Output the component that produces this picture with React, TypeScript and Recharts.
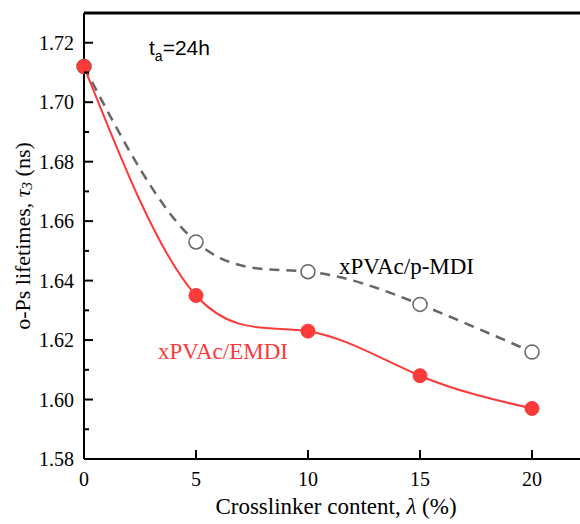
import React from "react";
import { LineChart, Line, XAxis, YAxis, ReferenceLine } from "recharts";

const content = [0, 5, 10, 15, 20];
const emdi = [1.712, 1.635, 1.623, 1.608, 1.597];
const pmdi = [1.712, 1.653, 1.643, 1.632, 1.616];
const xTicks = [0, 5, 10, 15, 20];
const yMajor = [1.58, 1.6, 1.62, 1.64, 1.66, 1.68, 1.7, 1.72];
const yMinor = [1.59, 1.61, 1.63, 1.65, 1.67, 1.69, 1.71];

const RED = "#fb3a3a";
const GRAY = "#666666";
const FONT = "'Liberation Serif', 'Times New Roman', serif";
const SANS = "'Liberation Sans', Arial, sans-serif";

const data = content.map((c, i) => ({ c, emdi: emdi[i], pmdi: pmdi[i] }));
const yTicks = [...yMajor, ...yMinor].sort((a, b) => a - b);

const YTick = (props: any) => {
  const { x, y, payload } = props;
  const major = yMajor.some((v) => Math.abs(v - payload.value) < 1e-6);
  const ax = x + 10;
  return (
    <g>
      <line x1={ax} x2={ax + (major ? 9 : 5)} y1={y} y2={y} stroke="#000" strokeWidth={2} />
      {major && (
        <text x={x} y={y} dy="0.36em" textAnchor="end" fontFamily={FONT} fontSize={20} fill="#000">
          {payload.value.toFixed(2)}
        </text>
      )}
    </g>
  );
};

const XTick = (props: any) => {
  const { x, y, payload } = props;
  const ay = y - 13;
  return (
    <g>
      <line x1={x} x2={x} y1={ay} y2={ay - 9} stroke="#000" strokeWidth={2} />
      <text x={x} y={y} dy="0.71em" textAnchor="middle" fontFamily={FONT} fontSize={20} fill="#000">
        {payload.value}
      </text>
    </g>
  );
};

const YLabel = (props: any) => {
  const { viewBox } = props;
  const cx = 22;
  const cy = viewBox.y + viewBox.height / 2;
  return (
    <text
      x={cx}
      y={cy}
      transform={`rotate(-90, ${cx}, ${cy})`}
      textAnchor="middle"
      dominantBaseline="central"
      fontFamily={FONT}
      fontSize={22}
      fill="#000"
    >
      o-Ps lifetimes,{" "}
      <tspan fontStyle="italic">τ</tspan>
      <tspan fontStyle="italic" fontSize={15} dy={5}>3</tspan>
      <tspan dy={-5}> (ns)</tspan>
    </text>
  );
};

const XLabel = (props: any) => {
  const { viewBox } = props;
  const cx = viewBox.x + viewBox.width / 2;
  return (
    <text x={cx} y={514} textAnchor="middle" fontFamily={FONT} fontSize={23} fill="#000">
      Crosslinker content, <tspan fontStyle="italic">λ</tspan> (%)
    </text>
  );
};

export default function App() {
  return (
    <div style={{ position: "absolute", left: 0, top: 0, width: 580, height: 524, overflow: "hidden", background: "#fff" }}>
      <LineChart width={588} height={524} data={data} margin={{ top: 13, right: 0, bottom: 0, left: 0 }}>
        <XAxis
          dataKey="c"
          type="number"
          domain={[0, 22.5]}
          ticks={xTicks}
          interval={0}
          height={65}
          tickSize={0}
          tickMargin={13}
          tickLine={false}
          axisLine={{ stroke: "#000", strokeWidth: 2 }}
          tick={<XTick />}
          label={<XLabel />}
        />
        <YAxis
          type="number"
          domain={[1.58, 1.73]}
          ticks={yTicks}
          interval={0}
          width={84}
          tickSize={0}
          tickMargin={10}
          tickLine={false}
          axisLine={{ stroke: "#000", strokeWidth: 2 }}
          tick={<YTick />}
          label={<YLabel />}
        />
        <ReferenceLine y={1.73} stroke="#000" strokeWidth={3} />
        <Line
          dataKey="pmdi"
          type="natural"
          stroke={GRAY}
          strokeWidth={2.5}
          strokeDasharray="10 7"
          dot={{ r: 7, fill: "#fff", stroke: GRAY, strokeWidth: 1.5, strokeDasharray: "0" }}
          isAnimationActive={false}
        />
        <Line
          dataKey="emdi"
          type="natural"
          stroke={RED}
          strokeWidth={2}
          dot={{ r: 7, fill: RED, stroke: RED, strokeWidth: 1 }}
          isAnimationActive={false}
        />
      </LineChart>
      <svg width={580} height={524} style={{ position: "absolute", left: 0, top: 0, pointerEvents: "none" }}>
        <text x={149} y={55} fontFamily={SANS} fontSize={21} fill="#000">
          t<tspan fontSize={14} dy={6}>a</tspan>
          <tspan dy={-6}>=24h</tspan>
        </text>
        <text x={339} y={274} fontFamily={FONT} fontSize={23} fill="#000">
          xPVAc/p-MDI
        </text>
        <text x={158} y={359} fontFamily={FONT} fontSize={23} fill={RED}>
          xPVAc/EMDI
        </text>
      </svg>
    </div>
  );
}
